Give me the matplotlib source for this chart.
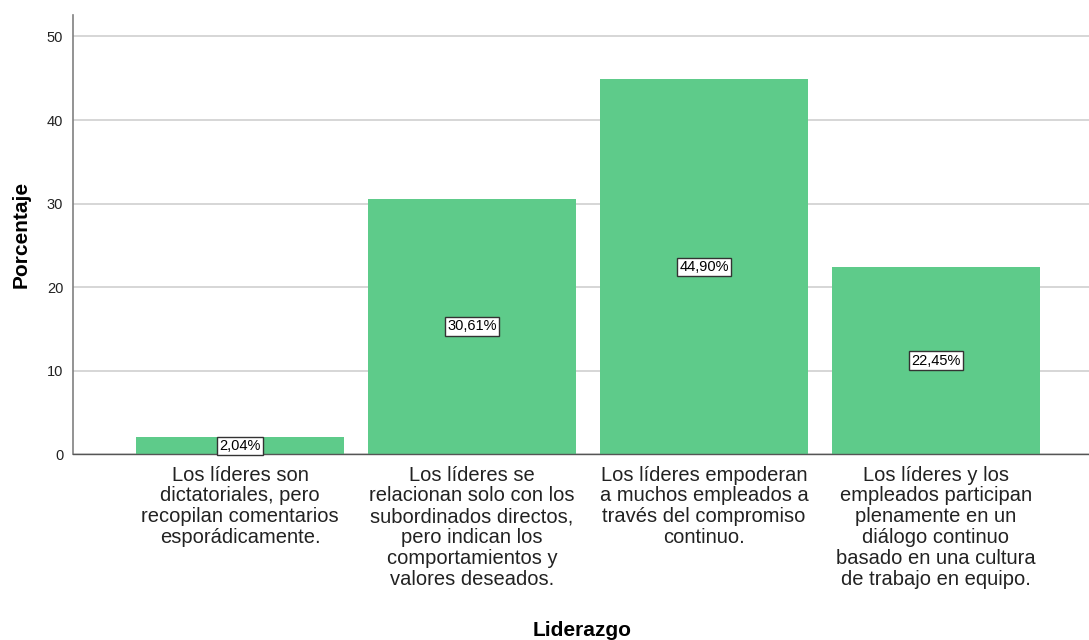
import matplotlib
matplotlib.use('Agg')
import matplotlib.pyplot as plt

categorias = [
    'Los líderes son\ndictatoriales, pero\nrecopilan comentarios\nesporádicamente.',
    'Los líderes se\nrelacionan solo con los\nsubordinados directos,\npero indican los\ncomportamientos y\nvalores deseados.',
    'Los líderes empoderan\na muchos empleados a\ntravés del compromiso\ncontinuo.',
    'Los líderes y los\nempleados participan\nplenamente en un\ndiálogo continuo\nbasado en una cultura\nde trabajo en equipo.',
]
porcentajes = [2.04, 30.61, 44.90, 22.45]
etiquetas = ['2,04%', '30,61%', '44,90%', '22,45%']
yticks = [0, 10, 20, 30, 40, 50]

plt.rcParams['font.family'] = ['Liberation Sans', 'DejaVu Sans']

fig = plt.figure(figsize=(10.89, 6.4), dpi=100)
ax = fig.add_axes([0.067, 0.29, 0.933, 0.687])

x = list(range(len(porcentajes)))
ax.bar(x, porcentajes, width=0.9, color='#5ECB8A', zorder=2)

for xi, v, lab in zip(x, porcentajes, etiquetas):
    ax.text(xi, v / 2, lab, ha='center', va='center', fontsize=10.5, zorder=3,
            bbox=dict(boxstyle='square,pad=0.15', facecolor='white', edgecolor='#333333', linewidth=1))

ax.set_xlim(-0.72, 3.66)
ax.set_ylim(0, 52.6)
ax.set_yticks(yticks)
ax.tick_params(axis='y', labelsize=10.5, length=0, pad=7, labelcolor='#222222')
ax.yaxis.grid(True, color='#D0D0D0', linewidth=1.2, zorder=0)
ax.set_axisbelow(True)

ax.set_xticks(x)
ax.set_xticklabels(categorias, fontsize=14.5, linespacing=1.12, color='#222222')
ax.tick_params(axis='x', length=0, pad=8)

for s in ['top', 'right']:
    ax.spines[s].set_visible(False)
ax.spines['left'].set_color('#808080')
ax.spines['left'].set_linewidth(1.2)
ax.spines['bottom'].set_color('#555555')
ax.spines['bottom'].set_linewidth(1)

ax.set_ylabel('Porcentaje', fontsize=15, fontweight='bold', labelpad=12)
fig.text(0.535, 0.015, 'Liderazgo', ha='center', va='center', fontsize=15, fontweight='bold')

fig.savefig('out.png', dpi=100)
